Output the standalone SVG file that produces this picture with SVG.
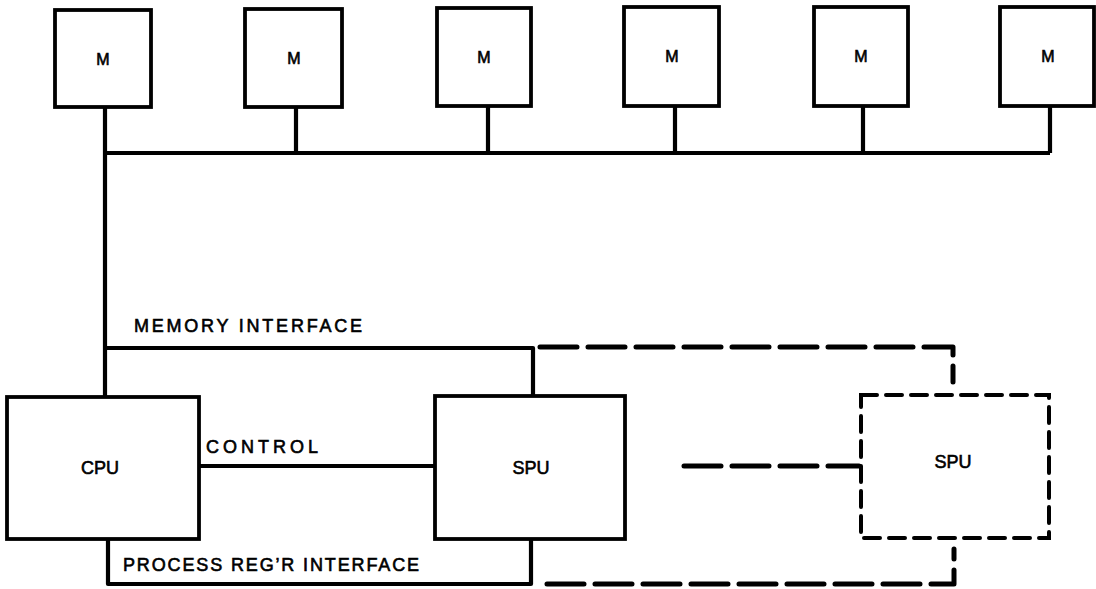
<svg xmlns="http://www.w3.org/2000/svg" width="1096" height="589" viewBox="0 0 1096 589">
<style>
.box{fill:#fff;stroke:#000;stroke-width:3.8}
.dbox{fill:#fff;stroke:#000;stroke-width:4;stroke-dasharray:16 9;stroke-linecap:round}
.ln{fill:none;stroke:#000;stroke-width:4.2;stroke-linejoin:round}
.dl{fill:none;stroke:#000;stroke-width:5;stroke-dasharray:37 11;stroke-linecap:round;stroke-linejoin:round}
text{font-family:"Liberation Sans",Arial,sans-serif;fill:#000;stroke:#000;stroke-width:0.6}
.m{font-size:16px;text-anchor:middle}
.lbl{font-size:18px;text-anchor:middle}
.cap{font-size:18px}
</style>
<rect width="1096" height="589" fill="#fff"/>
<g id="connectors">
<path class="ln" d="M105,107 V397"/>
<path class="ln" d="M105,153 H1050"/>
<path class="ln" d="M296,107 V153 M488,106 V153 M675,106 V153 M863,106 V153 M1050,106 V153"/>
<path class="ln" d="M105,348 H533 V396"/>
<path class="ln" d="M199,466 H435"/>
<path class="ln" d="M108,539 V584 H531 V539"/>
<path class="dl" d="M540,347 H953 V382"/>
<path class="dl" d="M684,466 H859"/>
<path class="dl" d="M547,584 H954 V549"/>
</g>
<g id="m1"><rect class="box" x="55" y="10" width="96" height="97"/><text class="m" x="103" y="65">M</text></g>
<g id="m2"><rect class="box" x="245" y="9" width="97" height="98"/><text class="m" x="294" y="64">M</text></g>
<g id="m3"><rect class="box" x="437" y="8" width="94" height="98"/><text class="m" x="484" y="63">M</text></g>
<g id="m4"><rect class="box" x="624" y="7" width="95" height="99"/><text class="m" x="672" y="62">M</text></g>
<g id="m5"><rect class="box" x="814" y="7" width="94" height="99"/><text class="m" x="861" y="62">M</text></g>
<g id="m6"><rect class="box" x="1000" y="7" width="94" height="99"/><text class="m" x="1048" y="62">M</text></g>
<g id="cpu"><rect class="box" x="7" y="397" width="192" height="142"/><text class="lbl" x="100" y="474">CPU</text></g>
<g id="spu1"><rect class="box" x="435" y="396" width="190" height="143"/><text class="lbl" x="531" y="474">SPU</text></g>
<g id="spu2"><rect class="dbox" x="861" y="395" width="188" height="143"/><text class="lbl" x="953" y="468">SPU</text></g>
<g id="labels">
<text class="cap" x="134" y="332" textLength="228" lengthAdjust="spacing">MEMORY INTERFACE</text>
<text class="cap" x="206" y="453" textLength="112" lengthAdjust="spacing">CONTROL</text>
<text class="cap" x="123" y="571" textLength="296" lengthAdjust="spacing">PROCESS REG’R INTERFACE</text>
</g>
</svg>
